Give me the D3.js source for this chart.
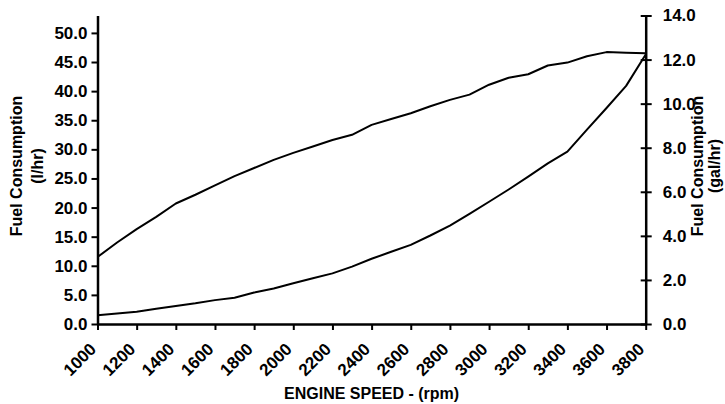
<!DOCTYPE html>
<html>
<head>
<meta charset="utf-8">
<script src="https://cdnjs.cloudflare.com/ajax/libs/d3/7.8.5/d3.min.js"></script>
<style>
  body { margin: 0; background: #fff; }
  svg { display: block; }
</style>
</head>
<body>
<div id="chart"></div>
<script>
// engine speed (rpm)
var rpm = [1000, 1100, 1200, 1300, 1400, 1500, 1600, 1700, 1800, 1900,
           2000, 2100, 2200, 2300, 2400, 2500, 2600, 2700, 2800, 2900,
           3000, 3100, 3200, 3300, 3400, 3500, 3600, 3700, 3800];

// fuel consumption, l/hr
var upperCurve = [11.5, 14.0, 16.3, 18.4, 20.7, 22.2, 23.8, 25.4, 26.8, 28.2,
                  29.4, 30.5, 31.6, 32.5, 34.2, 35.2, 36.2, 37.4, 38.5, 39.4,
                  41.1, 42.3, 42.9, 44.4, 44.9, 46.0, 46.7, 46.6, 46.5];
var lowerCurve = [1.5, 1.8, 2.1, 2.6, 3.1, 3.55, 4.1, 4.5, 5.4, 6.1,
                  7.0, 7.85, 8.7, 9.85, 11.2, 12.4, 13.6, 15.2, 16.9, 18.9,
                  21.0, 23.1, 25.3, 27.6, 29.6, 33.4, 37.1, 40.9, 46.3];

var xTicks = [1000, 1200, 1400, 1600, 1800, 2000, 2200, 2400, 2600, 2800,
              3000, 3200, 3400, 3600, 3800];
var leftTicks = [0, 5, 10, 15, 20, 25, 30, 35, 40, 45, 50];
var rightTicks = [0, 2, 4, 6, 8, 10, 12, 14];

var width = 725;
var height = 404;
var mainFont = '"Liberation Sans", Arial, sans-serif';
var textSize = '17px';

var plotLeft = 97.5;
var plotRight = 645.7;
var plotTop = 15.5;
var plotBottom = 324;

var svg = d3.select('#chart').append('svg')
    .attr('width', width)
    .attr('height', height);

var x = d3.scaleLinear().domain([1000, 3800]).range([plotLeft, plotRight]);
var yRight = d3.scaleLinear().domain([0, 14]).range([plotBottom, plotTop]);
// litres share the same vertical space: 14 gal/hr = 53 l/hr
var yLeft = d3.scaleLinear().domain([0, 14 * 3.785]).range([plotBottom, plotTop]);

// curves
var line = d3.line()
    .x(function(d) { return x(d[0]); })
    .y(function(d) { return yLeft(d[1]); });

[upperCurve, lowerCurve].forEach(function(series) {
    svg.append('path')
        .attr('d', line(rpm.map(function(r, i) { return [r, series[i]]; })))
        .attr('fill', 'none')
        .attr('stroke', '#000')
        .attr('stroke-width', 2)
        .attr('stroke-linejoin', 'round');
});

// x axis
var xAxis = svg.append('g')
    .attr('transform', 'translate(0,' + plotBottom + ')')
    .call(d3.axisBottom(x).tickValues(xTicks).tickSize(6).tickSizeOuter(0).tickFormat(d3.format('d')));
xAxis.select('.domain').attr('stroke-width', 2.5);
xAxis.selectAll('.tick line').attr('stroke-width', 2);
xAxis.selectAll('.tick text')
    .attr('transform', 'translate(-5,22) rotate(-45)')
    .attr('dy', '0.35em')
    .attr('x', 0)
    .attr('y', 0)
    .style('text-anchor', 'end');

// left axis
var leftAxis = svg.append('g')
    .attr('transform', 'translate(' + plotLeft + ',0)')
    .call(d3.axisLeft(yLeft).tickValues(leftTicks).tickSize(6).tickSizeOuter(0).tickPadding(4).tickFormat(d3.format('.1f')));
leftAxis.select('.domain').attr('stroke-width', 2.5);
leftAxis.selectAll('.tick line').attr('stroke-width', 2);

// right axis, ticks cross the line
var rightAxis = svg.append('g')
    .attr('transform', 'translate(' + plotRight + ',0)')
    .call(d3.axisRight(yRight).tickValues(rightTicks).tickSize(6).tickSizeOuter(0).tickPadding(11).tickFormat(d3.format('.1f')));
rightAxis.select('.domain').attr('stroke-width', 2.5);
rightAxis.selectAll('.tick line').attr('x1', -5).attr('stroke-width', 2);

svg.selectAll('.tick text')
    .style('font-family', mainFont)
    .style('font-size', textSize)
    .style('font-weight', 'bold')
    .style('fill', '#000');
svg.selectAll('.domain, .tick line').attr('stroke', '#000');

// axis titles
function rotatedTitle(cx, cy, lines, gap) {
    var t = svg.append('text')
        .attr('transform', 'translate(' + cx + ',' + cy + ') rotate(-90)')
        .style('font-family', mainFont)
        .style('font-size', '16px')
        .style('font-weight', 'bold')
        .style('text-anchor', 'middle');
    lines.forEach(function(s, i) {
        t.append('tspan').attr('x', 0).attr('y', i * gap).text(s);
    });
}
rotatedTitle(22, 166, ['Fuel Consumption', '(l/hr)'], 21);
rotatedTitle(703, 166, ['Fuel Consumption', '(gal/hr)'], 17);

svg.append('text')
    .attr('x', (plotLeft + plotRight) / 2)
    .attr('y', 399)
    .style('font-family', mainFont)
    .style('font-size', '16px')
    .style('font-weight', 'bold')
    .style('text-anchor', 'middle')
    .text('ENGINE SPEED - (rpm)');
</script>
</body>
</html>
